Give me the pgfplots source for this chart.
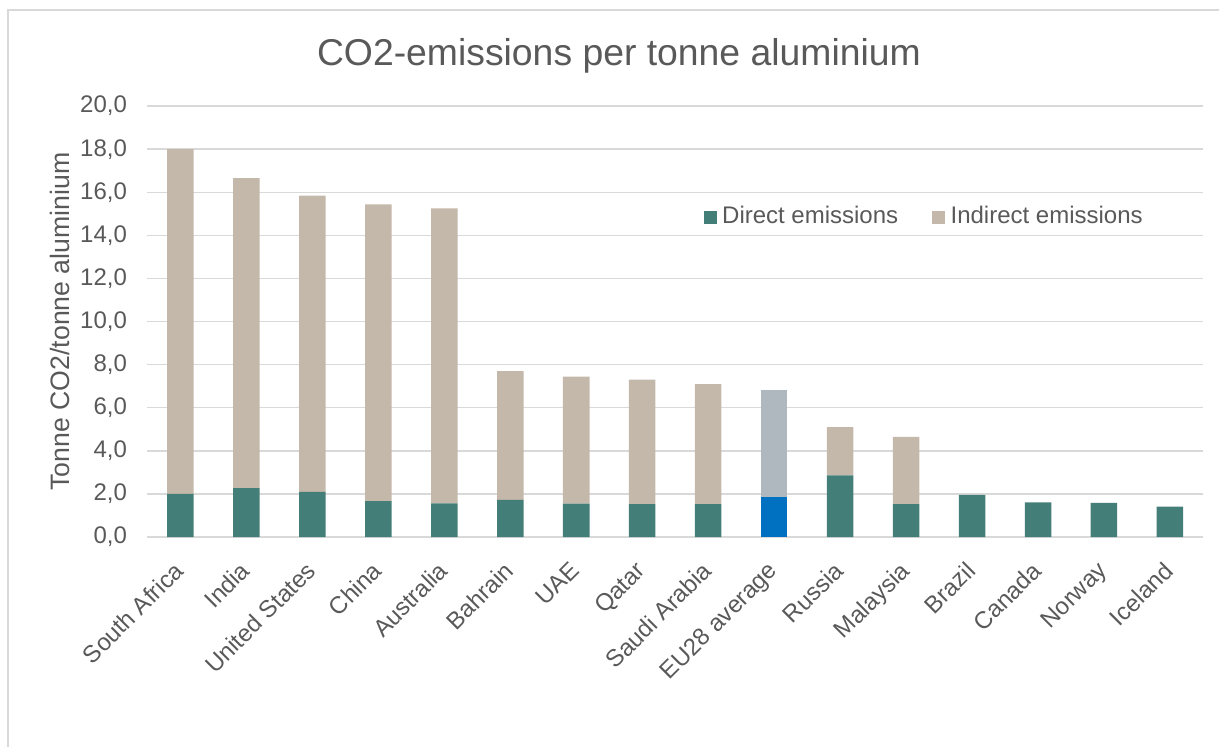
\documentclass[border=0pt]{standalone}
\usepackage{fontspec}
\setmainfont{Liberation Sans}
\usepackage{pgfplots}
\pgfplotsset{compat=1.18}
\usepackage{pgfplotstable}
\definecolor{direct}{HTML}{437F78}
\definecolor{indirect}{HTML}{C4B8AA}
\definecolor{eudirect}{HTML}{0070C0}
\definecolor{euindirect}{HTML}{AFB7BF}
\definecolor{gridc}{HTML}{D9D9D9}
\definecolor{txt}{HTML}{595959}

\pgfplotstableread{
x direct eudirect indirect euindirect
0  2.00 0    16.00 0
1  2.27 0    14.39 0
2  2.09 0    13.75 0
3  1.67 0    13.77 0
4  1.56 0    13.69 0
5  1.72 0    5.98  0
6  1.55 0    5.89  0
7  1.52 0    5.78  0
8  1.52 0    5.58  0
9  0    1.86 0     4.96
10 2.86 0    2.24  0
11 1.53 0    3.12  0
12 1.95 0    0     0
13 1.61 0    0     0
14 1.58 0    0     0
15 1.41 0    0     0
}\datatable

\begin{document}
\begin{tikzpicture}[x=1pt,y=1pt]
\useasboundingbox (0,0) rectangle (457.125,280.125);
\draw[gridc, line width=0.75pt] (3,0) -- (3,276.4) -- (457.125,276.4);
\node[txt, font=\fontsize{14}{16}\selectfont] at (232.1,259.1) {CO2-emissions per tonne aluminium};
\begin{axis}[
  at={(55.3pt,78.75pt)}, anchor=south west,
  scale only axis, width=395.8pt, height=161.6pt,
  ybar stacked, bar width=9.94pt,
  xmin=-0.5, xmax=15.5, ymin=0, ymax=20,
  ytick={0,2,...,20},
  xtick={0,...,15},
  xticklabels={South Africa,India,United States,China,Australia,Bahrain,UAE,Qatar,Saudi Arabia,EU28 average,Russia,Malaysia,Brazil,Canada,Norway,Iceland},
  major tick length=0pt,
  axis line style={draw=none},
  ymajorgrids, grid style={gridc, line width=0.56pt},
  extra y ticks={0}, extra y tick labels={},
  extra y tick style={grid style={gridc, line width=0.75pt}},
  yticklabel style={font=\fontsize{9}{10}\selectfont, color=txt, inner sep=0pt, xshift=-7.5pt},
  xticklabel style={font=\fontsize{9}{10}\selectfont, color=txt, rotate=45, anchor=north east, inner sep=0pt, xshift=-8pt, yshift=-4pt},
  /pgf/number format/.cd, fixed, fixed zerofill, precision=1, use comma, assume math mode=true,
  /pgfplots/.cd,
  ylabel={Tonne CO2/tonne aluminium},
  ylabel style={font=\fontsize{10}{12}\selectfont, color=txt, at={(axis description cs:-0.083,0.5)}, anchor=center},
  legend style={at={(0.519,0.742)}, anchor=west, draw=none, fill=none, legend columns=2,
    font=\fontsize{9}{10}\selectfont, text=txt,
    /tikz/every even column/.append style={column sep=10.75pt},
    /tikz/every odd column/.append style={column sep=0pt}},
  legend cell align=left,
  legend image code/.code={\fill[#1] (0pt,-2.45pt) rectangle (4.9pt,2.45pt);},
]
\addplot[fill=direct, draw=none] table[x=x, y=direct] {\datatable};
\addlegendentry{Direct emissions}
\addplot[fill=eudirect, draw=none, forget plot] table[x=x, y=eudirect] {\datatable};
\addplot[fill=indirect, draw=none] table[x=x, y=indirect] {\datatable};
\addlegendentry{Indirect emissions}
\addplot[fill=euindirect, draw=none, forget plot] table[x=x, y=euindirect] {\datatable};
\end{axis}
\end{tikzpicture}
\end{document}
